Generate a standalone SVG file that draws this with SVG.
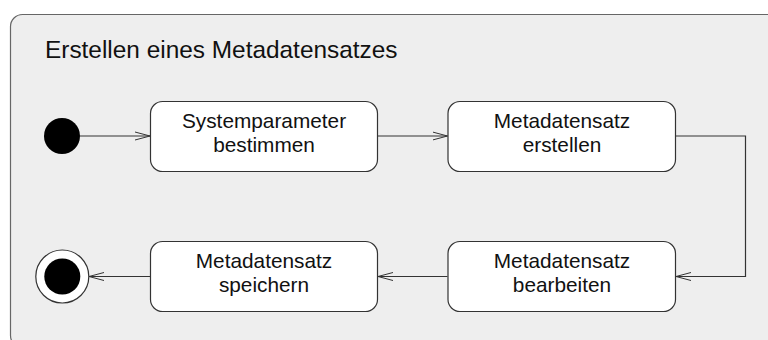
<svg xmlns="http://www.w3.org/2000/svg" width="768" height="340" viewBox="0 0 768 340">
<defs>
<marker id="open" markerWidth="16" markerHeight="10" refX="15" refY="5" orient="auto" markerUnits="userSpaceOnUse">
<path d="M0,1 L15,5 L0,9" fill="none" stroke="#333" stroke-width="1"/>
</marker>
<style>
.frame{fill:#eeeeee;stroke:#666;stroke-width:1.2}
.box{fill:#fff;stroke:#333;stroke-width:1.2}
.lbl{font-family:"Liberation Sans",Arial,sans-serif;font-size:20.8px;fill:#111;text-anchor:middle}
.title{font-family:"Liberation Sans",Arial,sans-serif;font-size:24.4px;fill:#111}
.edge{fill:none;stroke:#333;stroke-width:1.2;marker-end:url(#open)}
</style>
</defs>
<rect width="768" height="340" fill="#fff"/>
<g id="frame">
<rect class="frame" x="10.5" y="14.5" width="800" height="333" rx="12"/>
<text class="title" x="45" y="57.5">Erstellen eines Metadatensatzes</text>
</g>
<g id="edges">
<path class="edge" d="M80,136 H150"/>
<path class="edge" d="M378,136 H447.5"/>
<path class="edge" d="M676,136 H745.5 V276.5 H676"/>
<path class="edge" d="M447.5,276.5 H378"/>
<path class="edge" d="M150,276.5 H89"/>
</g>
<g id="start"><circle cx="62" cy="136" r="18" fill="#000"/></g>
<g id="n1">
<rect class="box" x="150.5" y="101.5" width="227" height="70" rx="12"/>
<text class="lbl" x="264" y="127.5">Systemparameter</text>
<text class="lbl" x="264" y="151.5">bestimmen</text>
</g>
<g id="n2">
<rect class="box" x="448" y="101.5" width="227.5" height="70" rx="12"/>
<text class="lbl" x="562" y="127.5">Metadatensatz</text>
<text class="lbl" x="562" y="151.5">erstellen</text>
</g>
<g id="n3">
<rect class="box" x="448" y="241.5" width="227.5" height="70" rx="12"/>
<text class="lbl" x="562" y="267.5">Metadatensatz</text>
<text class="lbl" x="562" y="291.5">bearbeiten</text>
</g>
<g id="n4">
<rect class="box" x="150.5" y="241.5" width="227" height="70" rx="12"/>
<text class="lbl" x="264" y="267.5">Metadatensatz</text>
<text class="lbl" x="264" y="291.5">speichern</text>
</g>
<g id="end">
<circle cx="62.3" cy="276.5" r="26.5" fill="#fff" stroke="#333" stroke-width="1.2"/>
<circle cx="62.3" cy="276.5" r="18" fill="#000"/>
</g>
</svg>
